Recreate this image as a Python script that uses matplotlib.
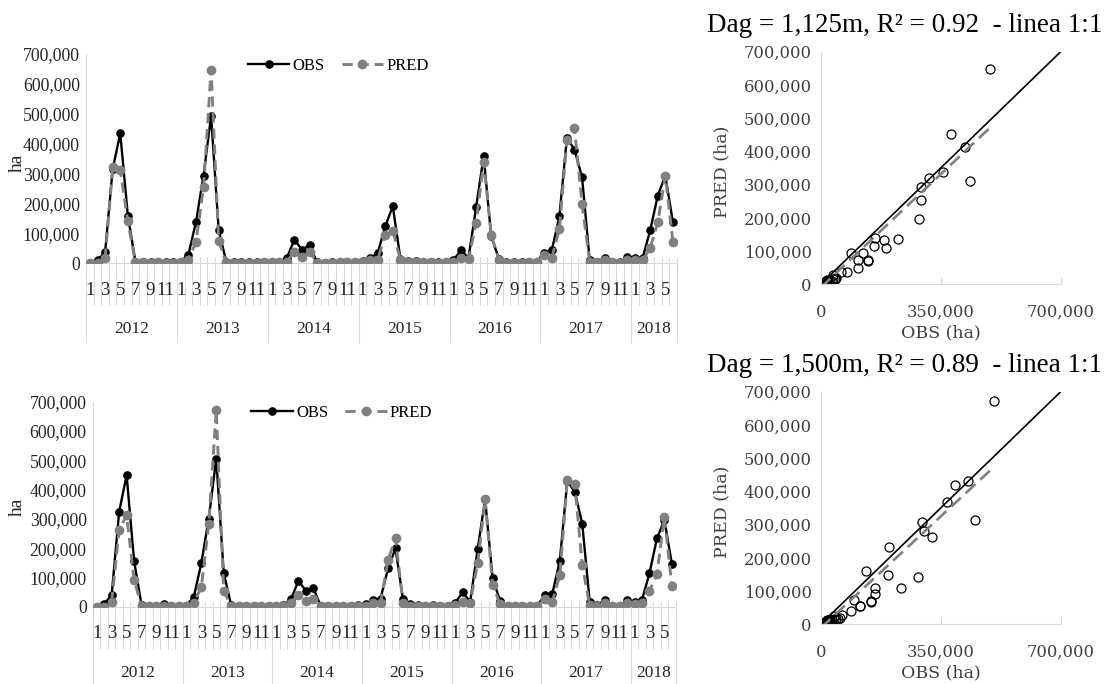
import numpy as np
import matplotlib.pyplot as plt
from matplotlib.transforms import offset_copy

plt.rcParams['font.family'] = ['Liberation Serif', 'DejaVu Serif']

years = ['2012', '2013', '2014', '2015', '2016', '2017', '2018']
months_per_year = [12, 12, 12, 12, 12, 12, 6]
months = [m for n in months_per_year for m in range(1, n + 1)]

# superficie mensual (ha), Dag = 1,125 m
obs_1125 = [0, 9000, 37000, 315000, 434000, 159000, 5000, 3000, 2000, 4000, 2000, 2000,
            5000, 28000, 137000, 293000, 493000, 109000, 5000, 3000, 2000, 2000, 2000, 3000,
            3000, 4000, 17000, 78000, 45000, 59000, 2000, 1000, 2000, 3000, 4000, 5000,
            8000, 17000, 33000, 123000, 190000, 15000, 8000, 6000, 3000, 5000, 2000, 3000,
            10000, 42000, 17000, 186000, 357000, 89000, 15000, 2000, 2000, 2000, 3000, 4000,
            35000, 42000, 156000, 420000, 379000, 287000, 11000, 5000, 17000, 3000, 2000, 20000,
            17000, 17000, 109000, 226000, 292000, 137000]
pred_1125 = [0, 0, 17000, 320000, 312000, 139000, 3000, 2000, 1000, 3000, 1000, 1000,
             2000, 11000, 70000, 254000, 647000, 74000, 1000, 1000, 1000, 1000, 1000, 2000,
             2000, 2000, 5000, 37000, 20000, 38000, 1000, 1000, 1000, 2000, 2000, 3000,
             4000, 11000, 11000, 95000, 108000, 11000, 4000, 3000, 2000, 3000, 1000, 2000,
             5000, 17000, 12000, 134000, 337000, 95000, 11000, 1000, 1000, 1000, 2000, 3000,
             28000, 17000, 114000, 412000, 451000, 197000, 5000, 3000, 9000, 2000, 1000, 11000,
             9000, 9000, 50000, 136000, 292000, 72000]

# superficie mensual (ha), Dag = 1,500 m
obs_1500 = [0, 9000, 40000, 324000, 449000, 157000, 5000, 3000, 3000, 10000, 2000, 3000,
            3000, 34000, 148000, 301000, 506000, 116000, 5000, 3000, 2000, 2000, 3000, 3000,
            3000, 5000, 25000, 88000, 55000, 63000, 2000, 1000, 2000, 3000, 4000, 5000,
            8000, 23000, 28000, 131000, 199000, 25000, 8000, 5000, 3000, 5000, 2000, 3000,
            14000, 49000, 17000, 196000, 367000, 97000, 20000, 2000, 2000, 2000, 3000, 4000,
            40000, 45000, 157000, 430000, 392000, 284000, 17000, 5000, 23000, 3000, 2000, 23000,
            17000, 23000, 114000, 233000, 296000, 146000]
pred_1500 = [0, 0, 17000, 262000, 313000, 91000, 3000, 2000, 1000, 3000, 1000, 1000,
             2000, 14000, 66000, 282000, 671000, 55000, 1000, 1000, 1000, 1000, 1000, 2000,
             2000, 2000, 14000, 40000, 20000, 28000, 1000, 1000, 1000, 2000, 2000, 3000,
             4000, 14000, 14000, 159000, 233000, 14000, 4000, 3000, 2000, 3000, 1000, 2000,
             5000, 17000, 14000, 148000, 367000, 74000, 9000, 1000, 1000, 1000, 2000, 3000,
             25000, 17000, 108000, 432000, 419000, 142000, 5000, 3000, 11000, 2000, 1000, 14000,
             9000, 11000, 55000, 110000, 307000, 71000]

GRIS = '#808080'
CLARO = '#d9d9d9'
W, H = 1109, 684


def miles(v, pos=None):
    return f'{int(round(v)):,}'


def serie(ax, obs, pred, leg_x, leg_y, ylab_x, ylab_y):
    x = np.arange(len(obs))
    ax.plot(x, obs, color='black', lw=1.7, marker='o', ms=5.2, label='OBS', zorder=3)
    ax.plot(x, pred, color=GRIS, lw=2.1, ls=(0, (3.5, 2)), marker='o', ms=6,
            label='PRED', zorder=4)
    ax.set_xlim(-0.5, len(obs) - 0.5)
    ax.set_ylim(0, 700000)
    ax.set_yticks(np.arange(0, 700001, 100000))
    ax.yaxis.set_major_formatter(miles)
    ax.tick_params(axis='y', length=0, pad=4.5, labelsize=12.8, labelcolor='#262626')
    ax.set_xticks([])
    for s in ['top', 'right']:
        ax.spines[s].set_visible(False)
    ax.spines['left'].set_color(CLARO)
    ax.spines['bottom'].set_color(CLARO)

    # eje de categorias en dos niveles (mes / año)
    alto = ax.get_position().height * H
    tr = ax.get_xaxis_transform()
    ax.vlines(np.arange(len(obs) + 1) - 0.5, -42 / alto, 6 / alto, transform=tr,
              color=CLARO, lw=0.8, clip_on=False)
    lims = np.concatenate([[0], np.cumsum(months_per_year)]) - 0.5
    ax.vlines(lims, -80 / alto, 0, transform=tr, color=CLARO, lw=0.8, clip_on=False)
    tmes = offset_copy(tr, fig=ax.figure, y=-27, units='dots')
    for i, m in enumerate(months):
        if m % 2 == 1:
            ax.text(i, 0, str(m), transform=tmes, ha='center', va='center',
                    fontsize=13.5, color='#262626')
    tano = offset_copy(tr, fig=ax.figure, y=-66, units='dots')
    for k, a in enumerate(years):
        ax.text((lims[k] + lims[k + 1]) / 2, 0, a, transform=tano, ha='center',
                va='center', fontsize=12.5, color='#262626')

    ax.text(ylab_x, ylab_y, 'ha', transform=ax.transAxes, rotation=90,
            ha='center', va='center', fontsize=14, color='#262626')
    ax.legend(loc='center', bbox_to_anchor=(leg_x, leg_y), ncol=2, frameon=False,
              fontsize=12, handlelength=2.5, handletextpad=0.2, columnspacing=1.0,
              borderpad=0, borderaxespad=0)


def dispersion(ax, obs, pred, titulo, tit_y):
    obs = np.array(obs)
    pred = np.array(pred)
    ax.plot(obs, pred, ls='none', marker='o', ms=6.5, mfc='none', mec='black', mew=0.9)
    ax.plot([0, 700000], [0, 700000], color='black', lw=1.2)
    a, b = np.polyfit(obs, pred, 1)
    xs = np.array([obs.min(), obs.max()])
    ax.plot(xs, a * xs + b, color=GRIS, lw=1.9, ls=(0, (5, 2.5)))
    ax.set_xlim(0, 700000)
    ax.set_ylim(0, 700000)
    ax.set_xticks([0, 350000, 700000])
    ax.set_yticks(np.arange(0, 700001, 100000))
    ax.xaxis.set_major_formatter(miles)
    ax.yaxis.set_major_formatter(miles)
    ax.tick_params(axis='x', direction='in', length=5, color=CLARO, pad=14)
    ax.tick_params(axis='y', length=0, pad=6.5)
    for lab in ax.get_xticklabels() + ax.get_yticklabels():
        lab.set_family('DejaVu Serif')
        lab.set_fontsize(11.8)
        lab.set_color('#404040')
    for s in ['top', 'right']:
        ax.spines[s].set_visible(False)
    ax.spines['left'].set_color(CLARO)
    ax.spines['bottom'].set_color(CLARO)
    ax.text(0.501, -0.209, 'OBS (ha)', transform=ax.transAxes, ha='center', va='center',
            family='DejaVu Serif', fontsize=12.5, color='#404040')
    ax.text(-0.41, 0.483, 'PRED (ha)', transform=ax.transAxes, rotation=90, ha='center',
            va='center', family='DejaVu Serif', fontsize=12.5, color='#404040')
    ax.figure.text(905 / W, tit_y, titulo, ha='center', va='baseline', fontsize=19.5)


fig = plt.figure(figsize=(W / 100, H / 100), dpi=100)

ax1 = fig.add_axes([86.2 / W, (H - 263) / H, 590.5 / W, 209 / H])
ax2 = fig.add_axes([93 / W, (H - 606.7) / H, 582.6 / W, 205 / H])
ax3 = fig.add_axes([820.7 / W, (H - 284.3) / H, 240 / W, 232.6 / H])
ax4 = fig.add_axes([820.7 / W, (H - 624.3) / H, 240 / W, 232.6 / H])

serie(ax1, obs_1125, pred_1125, 0.427, 0.943, -0.117, 0.478)
serie(ax2, obs_1500, pred_1500, 0.427, 0.946, -0.130, 0.488)
dispersion(ax3, obs_1125, pred_1125, 'Dag = 1,125m, R² = 0.92  - linea 1:1', 1 - 32 / H)
dispersion(ax4, obs_1500, pred_1500, 'Dag = 1,500m, R² = 0.89  - linea 1:1', 1 - 372 / H)

fig.savefig('out.png', dpi=100, facecolor='white')
